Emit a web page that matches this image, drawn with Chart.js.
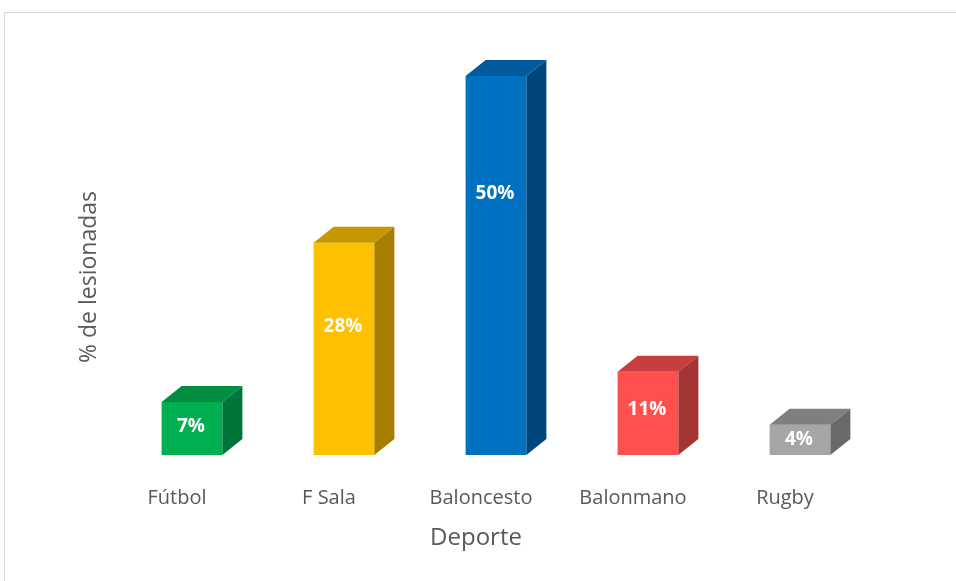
<!DOCTYPE html>
<html>
<head>
<meta charset="utf-8">
<script src="https://cdn.jsdelivr.net/npm/chart.js@4.4.1/dist/chart.umd.min.js"></script>
<style>
  html, body { margin: 0; padding: 0; background: #fff; overflow: hidden; }
  #wrap { position: relative; width: 956px; height: 581px; }
  #frame { position: absolute; left: 4px; top: 12px; width: 1100px; height: 1100px; border: 1px solid #d9d9d9; box-sizing: border-box; }
  canvas { position: absolute; left: 0; top: 0; }
</style>
</head>
<body>
<div id="wrap">
  <div id="frame"></div>
  <canvas id="c" width="956" height="581"></canvas>
</div>
<script>
const categories = ['Fútbol', 'F Sala', 'Baloncesto', 'Balonmano', 'Rugby'];
const values = [7, 28, 50, 11, 4];
const valueLabels = ['7%', '28%', '50%', '11%', '4%'];
const frontColors = ['#00B050', '#FFC000', '#0070C0', '#FF5050', '#A6A6A6'];
const topColors = ['#008D40', '#C79700', '#005A9C', '#C63E3E', '#7F7F7F'];
const sideColors = ['#00753A', '#A67E00', '#00467D', '#A53434', '#6A6A6A'];
const xTitle = 'Deporte';
const yTitle = '% de lesionadas';

const DX = 20, DY = -16;

const box3d = {
  id: 'box3d',
  afterDatasetsDraw(chart) {
    const ctx = chart.ctx;
    const meta = chart.getDatasetMeta(0);
    meta.data.forEach((bar, i) => {
      const p = bar.getProps(['x', 'y', 'width', 'base'], true);
      const l = p.x - p.width / 2, r = p.x + p.width / 2;
      const t = p.y, b = p.base;
      ctx.save();
      ctx.beginPath();
      ctx.moveTo(l, t);
      ctx.lineTo(r, t);
      ctx.lineTo(r + DX, t + DY);
      ctx.lineTo(l + DX, t + DY);
      ctx.closePath();
      ctx.fillStyle = topColors[i];
      ctx.fill();
      ctx.beginPath();
      ctx.moveTo(r, t);
      ctx.lineTo(r + DX, t + DY);
      ctx.lineTo(r + DX, b + DY);
      ctx.lineTo(r, b);
      ctx.closePath();
      ctx.fillStyle = sideColors[i];
      ctx.fill();
      const h = b - t;
      ctx.fillStyle = '#ffffff';
      ctx.font = 'bold 19px "Open Sans"';
      ctx.textAlign = 'center';
      ctx.textBaseline = 'middle';
      const ly = t + h * (0.5 - 0.0005 * h);
      ctx.fillText(valueLabels[i], p.x - 1, ly);
      ctx.restore();
    });
  },
  afterDraw(chart) {
    const ctx = chart.ctx;
    const a = chart.chartArea;
    ctx.save();
    ctx.fillStyle = '#595959';
    ctx.textAlign = 'center';
    ctx.textBaseline = 'middle';
    ctx.font = '24px "Open Sans"';
    ctx.fillText(xTitle, a.left + (a.right - a.left) / 2 - 20, a.bottom + 83);
    ctx.translate(a.left - 27, a.bottom - 178);
    ctx.rotate(-Math.PI / 2);
    ctx.font = '23px "Open Sans"';
    ctx.fillText(yTitle, 0, 0);
    ctx.restore();
  }
};

new Chart(document.getElementById('c'), {
  type: 'bar',
  data: {
    labels: categories,
    datasets: [{
      data: values,
      backgroundColor: frontColors,
      borderWidth: 0,
      categoryPercentage: 1,
      barPercentage: 0.4,
      clip: false
    }]
  },
  options: {
    responsive: false,
    animation: false,
    layout: { padding: { left: 116, right: 80, top: 38.2, bottom: 40 } },
    plugins: { legend: { display: false }, tooltip: { enabled: false } },
    scales: {
      x: {
        grid: { display: false, drawTicks: false },
        border: { display: false },
        ticks: { color: '#595959', font: { family: 'Open Sans', size: 20 }, padding: 31, labelOffset: -15, maxRotation: 0 },
        title: { display: false }
      },
      y: {
        display: false,
        min: 0, max: 55
      }
    }
  },
  plugins: [box3d]
});
</script>
</body>
</html>
